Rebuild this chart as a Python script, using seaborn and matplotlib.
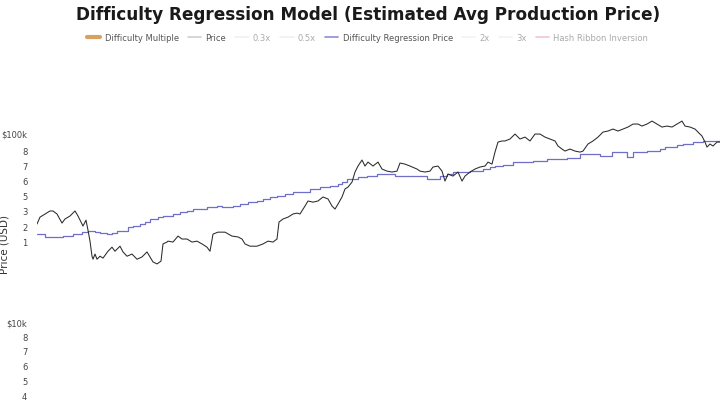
import numpy as np
import pandas as pd
import matplotlib
matplotlib.use("Agg")
import matplotlib.pyplot as plt
import matplotlib.ticker as mticker
from matplotlib.lines import Line2D
import seaborn as sns

# ── Data (x = position along time axis, y = USD) ────────────────────────────
price_t = [37, 40, 45, 50, 53, 57, 62, 65, 70, 75, 78, 83, 86, 88, 90, 92, 93, 95, 97,
           100, 103, 108, 112, 115, 120, 123, 127, 132, 137, 142, 147, 150, 153, 157,
           161, 163, 167, 168, 173, 178, 182, 187, 192, 197, 202, 207, 210, 213, 218,
           225, 232, 238, 242, 245, 250, 257, 263, 268, 273, 277, 279, 283, 288, 293,
           297, 300, 305, 308, 313, 318, 323, 328, 332, 335, 338, 342, 345, 348, 352,
           355, 358, 362, 365, 368, 373, 378, 382, 387, 392, 397, 400, 405, 410, 417,
           420, 425, 430, 433, 438, 442, 445, 448, 453, 458, 462, 465, 470, 475, 480,
           485, 488, 492, 495, 498, 502, 505, 510, 515, 520, 525, 530, 535, 540, 545,
           550, 555, 558, 562, 565, 570, 575, 580, 583, 588, 593, 598, 603, 608, 613,
           618, 623, 628, 633, 638, 642, 647, 652, 657, 662, 667, 672, 677, 682, 685,
           690, 695, 698, 702, 705, 707, 710, 713, 717, 720]
price_k = [33.0, 35.9, 37.3, 38.7, 38.7, 37.3, 33.4, 35.1, 36.4, 38.7, 36.4, 32.2, 34.6,
           30.6, 26.8, 22.3, 21.5, 22.9, 21.5, 22.3, 21.8, 23.7, 24.9, 23.7, 25.2, 23.5,
           22.3, 22.9, 21.5, 22.1, 23.5, 22.1, 20.8, 20.3, 21.0, 25.9, 26.5, 26.8, 26.5,
           28.5, 27.5, 27.5, 26.5, 26.8, 25.9, 24.9, 23.7, 29.2, 29.9, 29.9, 28.5, 28.2,
           27.5, 25.9, 25.2, 25.2, 25.9, 26.8, 26.5, 27.5, 33.8, 35.1, 35.9, 37.3, 37.7,
           37.3, 41.1, 43.7, 43.1, 43.7, 45.9, 44.8, 41.1, 39.6, 42.1, 45.9, 50.6, 51.8,
           55.0, 62.2, 66.9, 72.0, 66.9, 70.2, 66.9, 70.2, 64.5, 62.9, 62.2, 62.9, 69.4,
           68.5, 66.9, 64.5, 62.9, 62.2, 62.9, 66.1, 66.9, 62.9, 55.7, 60.7, 59.2, 62.2,
           55.7, 59.2, 62.2, 64.5, 66.1, 66.9, 70.2, 68.5, 79.3, 89.6, 90.8, 90.8, 93.0,
           98.8, 93.0, 95.2, 90.8, 98.8, 98.8, 95.2, 93.0, 90.8, 85.4, 82.3, 80.3, 82.3,
           80.3, 79.3, 80.3, 87.5, 90.8, 95.2, 101.2, 102.5, 105.0, 102.5, 105.0, 107.6,
           111.6, 111.6, 108.9, 111.6, 115.7, 111.6, 107.6, 108.9, 107.6, 111.6, 115.7,
           108.9, 107.6, 105.0, 101.2, 96.4, 89.6, 84.3, 87.5, 85.4, 89.6, 89.6]

regr_t = [37, 45, 57, 63, 73, 82, 88, 95, 100, 107, 112, 117, 123, 128, 133, 140, 145,
          150, 158, 163, 167, 173, 180, 187, 193, 200, 207, 217, 222, 233, 240, 248, 257,
          263, 270, 277, 285, 293, 300, 310, 320, 330, 338, 342, 347, 358, 367, 377, 387,
          395, 413, 427, 440, 447, 453, 470, 483, 490, 495, 503, 513, 533, 547, 567, 580,
          600, 612, 625, 627, 632, 633, 647, 660, 665, 677, 683, 693, 703, 720]
regr_k = [29.2, 28.2, 28.2, 28.5, 29.2, 29.9, 30.3, 29.9, 29.5, 29.2, 29.5, 30.3, 30.3,
          31.8, 32.2, 33.0, 33.8, 35.1, 35.9, 36.4, 36.4, 37.3, 38.2, 38.7, 39.6, 39.6,
          40.6, 41.1, 40.6, 41.1, 42.1, 43.1, 43.7, 44.8, 45.9, 46.4, 47.6, 48.7, 48.7,
          50.6, 51.8, 52.4, 53.7, 55.0, 57.1, 58.5, 59.2, 60.7, 60.7, 59.2, 59.2, 57.1,
          59.2, 60.7, 62.2, 62.9, 64.5, 66.1, 66.9, 67.7, 70.2, 71.1, 72.8, 73.7, 77.4,
          75.5, 79.3, 79.3, 74.6, 74.6, 79.3, 80.3, 82.3, 84.3, 86.4, 87.5, 89.6, 90.8,
          90.8]

tick_vals = [100000, 81300, 67700, 56400, 47000, 38700, 32200, 26800,
             10000, 8430, 7030, 5860, 4880, 4110]
tick_labels = ["$100k", "8", "7", "6", "5", "3", "2", "1",
               "$10k", "8", "7", "6", "5", "4"]

legend_labels = ["Difficulty Multiple", "Price", "0.3x", "0.5x",
                 "Difficulty Regression Price", "2x", "3x", "Hash Ribbon Inversion"]
legend_colors = ["#d9a066", "#cfcfcf", "#f0f0f0", "#f0f0f0",
                 "#8c8cd8", "#f2f2f2", "#f2f2f2", "#f4c6cc"]
legend_text = ["#555555", "#555555", "#aaaaaa", "#aaaaaa",
               "#555555", "#aaaaaa", "#aaaaaa", "#aaaaaa"]

price_df = pd.DataFrame({"t": price_t, "usd": np.array(price_k) * 1000})
regr_df = pd.DataFrame({"t": regr_t, "usd": np.array(regr_k) * 1000})

sns.set_theme(style="white")
plt.rcParams["font.family"] = ["DejaVu Sans"]

fig = plt.figure(figsize=(7.21, 4.06), dpi=100)
ax = fig.add_axes([37 / 721, 0.0, 683 / 721, 1 - 55 / 406])

sns.lineplot(data=regr_df, x="t", y="usd", ax=ax, color="#6f6fc8", linewidth=0.9,
             drawstyle="steps-post")
sns.lineplot(data=price_df, x="t", y="usd", ax=ax, color="#2a2a2a", linewidth=0.75)

ax.set_yscale("log")
ax.set_xlim(37, 720)
ax.set_ylim(3640, 262000)
ax.yaxis.set_major_locator(mticker.FixedLocator(tick_vals))
ax.yaxis.set_minor_locator(mticker.NullLocator())
ax.set_yticks(tick_vals)
ax.set_yticklabels(tick_labels)
ax.tick_params(axis="y", length=0, pad=7, labelsize=6, labelcolor="#444444")
ax.set_xticks([])
ax.set_xlabel("")
ax.set_ylabel("Price (USD)", fontsize=7.5, color="#333333")
ax.yaxis.set_label_coords(-0.04, 0.46)
for s in ax.spines.values():
    s.set_visible(False)

fig.suptitle("Difficulty Regression Model (Estimated Avg Production Price)",
             x=0.51, y=0.985, fontsize=12.2, fontweight="bold", color="#1a1a1a")

handles = [Line2D([0], [0], color=c, linewidth=3 if i == 0 else 1.2)
           for i, c in enumerate(legend_colors)]
leg = fig.legend(handles, legend_labels, ncol=8, loc="center", bbox_to_anchor=(0.51, 0.905),
                 frameon=False, fontsize=6, handlelength=1.6, handletextpad=0.5,
                 columnspacing=1.1)
for t, c in zip(leg.get_texts(), legend_text):
    t.set_color(c)

fig.savefig("out.png", dpi=100, facecolor="white")
